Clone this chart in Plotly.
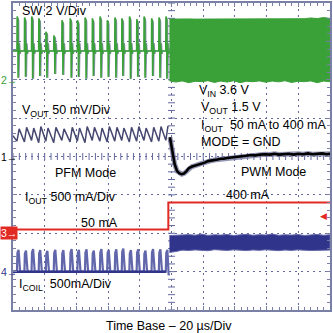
import numpy as np
import plotly.graph_objects as go

# ---- scope settings: time in µs, vertical position in screen divisions ----
SW_V_PER_DIV, SW_OFFSET = 2.0, 2.0
VOUT_MV_PER_DIV, VOUT_OFFSET = 50.0, 0.0
IOUT_MA_PER_DIV, IOUT_OFFSET = 500.0, -2.0
ICOIL_MA_PER_DIV, ICOIL_OFFSET = 500.0, -3.0

# ---- PFM region: one entry per switching burst ----
burst_t_us = [-97.5, -92.8, -88.3, -83.8, -79.3, -74.3, -69.2, -64.0, -59.4, -54.6, -50.0,
              -45.2, -40.6, -35.8, -31.4, -26.6, -22.0, -17.4, -12.6, -8.0, -3.6]
sw_burst_peak_v = [3.3, 3.25, 3.3, 3.2, 2.5, 2.3, 3.1, 3.2, 3.1, 3.25, 3.2,
                   3.3, 3.1, 3.25, 3.2, 3.3, 3.15, 3.3, 3.2, 3.25, 3.3]
sw_burst_dip_v = [0.1, 0.15, 0.05, 0.2, 0.1, 0.3, 0.25, 0.1, 0.15, 0.05, 0.2,
                  0.1, 0.15, 0.1, 0.2, 0.05, 0.15, 0.1, 0.2, 0.1, 0.05]
sw_idle_v = 1.5
vout_ripple_hi_mv = [36, 38, 37, 39, 37, 38, 36, 38, 37, 39, 38, 37, 39, 38, 37, 38, 39, 37, 38, 39, 40]
vout_ripple_lo_mv = [20, 19, 21, 18, 20, 18, 21, 19, 20, 18, 21, 20, 19, 20, 21, 19, 20, 21, 19, 20, 21]
vout_start_mv = 27
icoil_burst_peak_ma = [285, 275, 295, 280, 270, 285, 280, 295, 285, 290, 275,
                       295, 285, 290, 300, 280, 290, 275, 295, 290, 285]

# ---- load step and PWM region ----
pwm_start_us = -1.3
load_step_us = -2.0
iout_before_ma, iout_after_ma = 50, 400
icoil_dip_ma = -45

vout_pwm_t_us = [-1.0, 0.5, 2.0, 3.5, 5.0, 6.5, 8.0, 9.5, 11, 13, 15, 17, 19, 21, 23, 25, 27, 29,
                 31, 33, 35, 38, 41, 44, 47, 50, 53, 56, 59, 62, 65, 68, 71, 74, 77, 80, 83,
                 86, 89, 92, 95, 98, 100]
vout_pwm_mv = [25, 5, -10, -19, -22, -23, -22, -19, -15, -13, -12, -10, -9, -8, -6, -5.5, -4.5, -4,
               -3, -3, -2, -1.5, -0.5, 0, 1, 2, 1.5, 2.5, 3, 2.5, 3.5, 2.5, 3, 3.5, 2.5, 3.5, 3,
               4, 3, 3.5, 4, 3, 3.5]

env_t_us = np.linspace(pwm_start_us, 100, 26)
sw_pwm_top_v = [3.16, 3.17, 3.16, 3.17, 3.16, 3.16, 3.17, 3.16, 3.17, 3.16, 3.16, 3.17, 3.16,
                3.17, 3.16, 3.16, 3.17, 3.16, 3.17, 3.16, 3.17, 3.18, 3.22, 3.19, 3.24, 3.2]
sw_pwm_bot_v = [-0.05, -0.12, -0.06, -0.15, -0.08, -0.1, -0.05, -0.14, -0.07, -0.12, -0.05, -0.15,
                -0.08, -0.1, -0.06, -0.13, -0.07, -0.11, -0.05, -0.14, -0.08, -0.1, -0.06, -0.15,
                -0.07, -0.1]
icoil_pwm_top_ma = [470, 470, 478, 482, 475, 488, 472, 480, 476, 484, 470, 479, 486,
                    474, 481, 477, 489, 473, 480, 476, 483, 471, 479, 485, 474, 480]
icoil_pwm_bot_ma = [250, 262, 280, 275, 283, 278, 272, 286, 279, 276, 284, 280, 274,
                    282, 277, 285, 279, 273, 281, 276, 284, 279, 275, 283, 278, 281]

GREEN = "rgb(58,160,56)"
NAVY = "rgb(48,52,138)"
LAVENDER = "rgb(98,102,170)"
RED = "rgb(226,42,36)"
FRAME = "rgb(122,127,165)"
GRID = "rgb(100,105,158)"
FONT = "Liberation Sans, Arial, sans-serif"


def sw_div(v):
    return np.asarray(v, dtype=float) / SW_V_PER_DIV + SW_OFFSET


def vout_div(mv):
    return np.asarray(mv, dtype=float) / VOUT_MV_PER_DIV + VOUT_OFFSET


def iout_div(ma):
    return np.asarray(ma, dtype=float) / IOUT_MA_PER_DIV + IOUT_OFFSET


def icoil_div(ma):
    return np.asarray(ma, dtype=float) / ICOIL_MA_PER_DIV + ICOIL_OFFSET


# switch node: burst waveform in PFM
def sw_pfm(shift=0.0, scale=1.0):
    xs, ys = [-100.0], [sw_idle_v]
    for t0, pk, dip in zip(burst_t_us, sw_burst_peak_v, sw_burst_dip_v):
        dts = [0, 0.1, 0.55, 0.7, 1.1, 1.5, 1.9]
        vals = [sw_idle_v, pk * scale, pk * scale * 0.96, dip, sw_idle_v + 0.4, sw_idle_v - 0.15, sw_idle_v]
        xs += [t0 + shift + d for d in dts]
        ys += vals
    xs.append(pwm_start_us)
    ys.append(sw_idle_v)
    return xs, ys


# output voltage ripple in PFM
vx, vy = [-100.0], [vout_start_mv]
for t0, hi, lo in zip(burst_t_us, vout_ripple_hi_mv, vout_ripple_lo_mv):
    vx += [t0, t0 + 1.4]
    vy += [lo, hi]

# inductor current pulses in PFM
cx, cy = [-100.0], [0.0]
for t0, pk in zip(burst_t_us, icoil_burst_peak_ma):
    cx += [t0, t0 + 0.3, t0 + 1.0, t0 + 1.3, t0 + 2.0]
    cy += [0, pk * 0.85, pk, pk * 0.7, 0]
cx += [load_step_us + 0.2, load_step_us + 0.5]
cy += [icoil_dip_ma, icoil_dip_ma * 0.6]

fig = go.Figure()

# center-line tick marks of the graticule
fig.add_trace(go.Scatter(x=np.arange(-100, 101, 4), y=np.zeros(51), mode="markers",
                         marker=dict(symbol="line-ns", size=5, line=dict(width=1, color=GRID)),
                         hoverinfo="skip"))
fig.add_trace(go.Scatter(x=np.zeros(41), y=np.arange(-4, 4.01, 0.2), mode="markers",
                         marker=dict(symbol="line-ew", size=5, line=dict(width=1, color=GRID)),
                         hoverinfo="skip"))

# SW: persistence shadow, bursts, PWM envelope
px, py = sw_pfm(shift=0.6, scale=0.97)
fig.add_trace(go.Scatter(x=px, y=sw_div(py), mode="lines",
                         line=dict(color="rgba(120,125,165,0.85)", width=1.2)))
sx, sy = sw_pfm()
fig.add_trace(go.Scatter(x=sx, y=sw_div(sy), mode="lines", line=dict(color=GREEN, width=1.6)))
fig.add_trace(go.Scatter(x=list(env_t_us) + list(env_t_us[::-1]),
                         y=np.concatenate([sw_div(sw_pwm_top_v), sw_div(sw_pwm_bot_v[::-1])]),
                         mode="lines", fill="toself", fillcolor=GREEN,
                         line=dict(color=GREEN, width=1)))

# VOUT
fig.add_trace(go.Scatter(x=vx, y=vout_div(vy), mode="lines",
                         line=dict(color="rgb(70,72,112)", width=1.5)))
fig.add_trace(go.Scatter(x=vout_pwm_t_us, y=vout_div(vout_pwm_mv), mode="lines",
                         line=dict(color="rgba(120,125,160,0.8)", width=5)))
fig.add_trace(go.Scatter(x=vout_pwm_t_us, y=vout_div(vout_pwm_mv), mode="lines",
                         line=dict(color="black", width=2.6)))

# IOUT load step
fig.add_trace(go.Scatter(x=[-100, load_step_us, load_step_us, 100],
                         y=iout_div([iout_before_ma, iout_before_ma, iout_after_ma, iout_after_ma]),
                         mode="lines", line=dict(color=RED, width=2)))

# ICOIL
fig.add_trace(go.Scatter(x=cx, y=icoil_div(cy), mode="lines", line=dict(color=LAVENDER, width=2.2)))
fig.add_trace(go.Scatter(x=[-100, burst_t_us[-1]], y=icoil_div([0, 0]), mode="lines",
                         line=dict(color=NAVY, width=2.5)))
fig.add_trace(go.Scatter(x=list(env_t_us) + list(env_t_us[::-1]),
                         y=np.concatenate([icoil_div(icoil_pwm_top_ma), icoil_div(icoil_pwm_bot_ma[::-1])]),
                         mode="lines", fill="toself", fillcolor=NAVY,
                         line=dict(color=LAVENDER, width=1)))

axis_common = dict(showticklabels=False, showgrid=True, gridcolor=GRID, gridwidth=1.2,
                   griddash="2px,4px", zeroline=False, showline=True, linecolor=FRAME,
                   linewidth=2, mirror="allticks", ticks="inside", ticklen=4, tickcolor=FRAME)
fig.update_xaxes(range=[-100, 100], dtick=20, tick0=-100,
                 minor=dict(dtick=4, ticks="inside", ticklen=3, tickcolor=FRAME, showgrid=False),
                 **axis_common)
fig.update_yaxes(range=[-4, 4], dtick=1, tick0=-4,
                 minor=dict(dtick=0.2, ticks="inside", ticklen=3, tickcolor=FRAME, showgrid=False),
                 **axis_common)


def label(x, y, text, size=12.5, color="black", **kw):
    fig.add_annotation(x=x, y=y, text=text, showarrow=False, xanchor="left", yanchor="middle",
                       font=dict(family=FONT, size=size, color=color), **kw)


label(-95.6, 3.80, "SW 2 V/Div")
label(-95.6, 1.18, "V<sub>OUT</sub> 50 mV/Div")
label(16.0, 1.70, "V<sub>IN</sub> 3.6 V")
label(17.2, 1.26, "V<sub>OUT</sub> 1.5 V")
label(17.2, 0.79, "I<sub>OUT</sub>\u00a0\u00a050 mA to 400 mA")
label(17.2, 0.38, "MODE = GND")
label(-74.9, -0.43, "PFM Mode")
label(42.3, -0.40, "PWM Mode")
label(-93.7, -1.08, "I<sub>OUT</sub> 500 mA/Div")
label(32.9, -1.00, "400 mA")
label(-58.6, -1.72, "50 mA")
label(-97.5, -3.35, "I<sub>COIL</sub>\u00a0\u00a0500mA/Div")

# channel ground markers on the left edge
LEFT_EDGE = -13 / 319
for ch, y, col in [("2", SW_OFFSET, GREEN), ("1", VOUT_OFFSET, "black"), ("4", ICOIL_OFFSET, NAVY)]:
    fig.add_annotation(xref="paper", x=LEFT_EDGE, y=y, text=ch + "\u2192", showarrow=False,
                       xanchor="left", yanchor="middle", borderpad=0,
                       font=dict(family=FONT, size=10.5, color=col))
fig.add_annotation(xref="paper", x=LEFT_EDGE, y=IOUT_OFFSET, text="3\u2192", showarrow=False,
                   xanchor="left", yanchor="middle", bgcolor=RED, borderpad=0,
                   font=dict(family=FONT, size=10.5, color="white"))
# trigger level marker on the right edge
fig.add_annotation(xref="paper", x=1, y=iout_div(225), text="\u25c0", showarrow=False,
                   xanchor="right", yanchor="middle", xshift=-1,
                   font=dict(family=FONT, size=9, color=RED))

fig.add_annotation(xref="paper", yref="paper", x=0.492, y=-0.052, text="Time Base \u2013 20 \u00b5s/Div",
                   showarrow=False, xanchor="center", yanchor="middle",
                   font=dict(family=FONT, size=12.5, color="black"))

fig.update_layout(width=333, height=333, margin=dict(l=13, r=1, t=1, b=23),
                  plot_bgcolor="white", paper_bgcolor="white", showlegend=False)

fig.write_html("out.html")
